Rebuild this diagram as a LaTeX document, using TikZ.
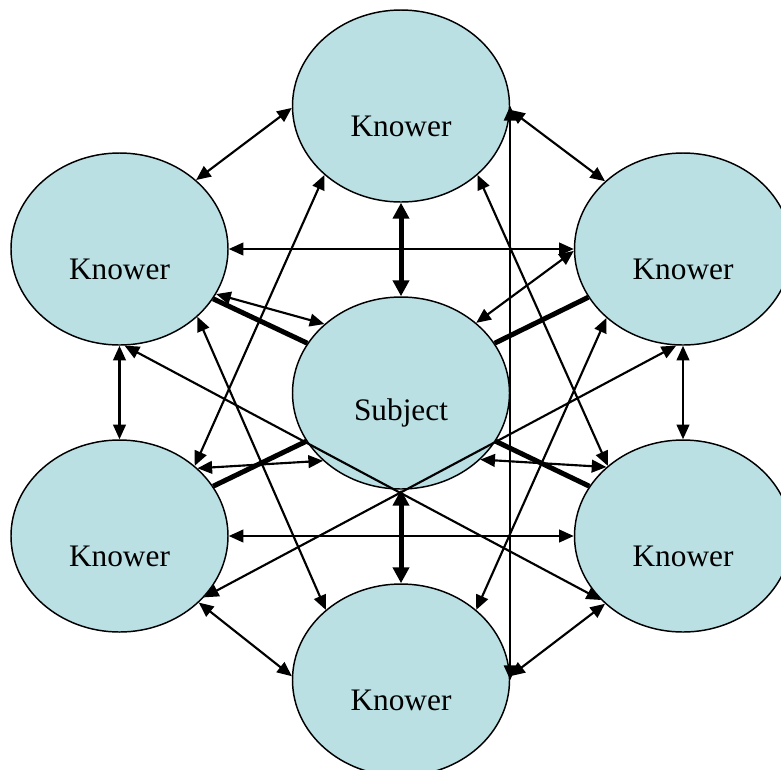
\documentclass[tikz,border=0pt]{standalone}
\usepackage{fontspec}
\setmainfont{Liberation Serif}
\usetikzlibrary{arrows.meta,shapes.geometric}
\definecolor{nodefill}{RGB}{186,224,228}
\begin{document}
\begin{tikzpicture}[x=0.75pt,y=-0.75pt,
  knower/.style={ellipse, draw=black, line width=1.1pt, fill=nodefill,
    minimum width=162.75pt, minimum height=144pt, inner sep=0pt},
  lbl/.style={font=\fontsize{23.5}{28}\selectfont, yshift=-15pt},
  dbl/.style={line width=1.6pt, {Triangle[length=11pt,width=9.5pt]}-{Triangle[length=11pt,width=9.5pt]}},
  boldline/.style={line width=3.75pt},
  boldarr/.style={line width=3.75pt, {Triangle[length=12pt,width=12pt]}-{Triangle[length=12pt,width=12pt]}}
]
\useasboundingbox (0,0) rectangle (781,769);
% nodes
\node[knower, label={[lbl]center:Knower}] (T)  at (401,106) {};
\node[knower, label={[lbl]center:Knower}] (LU) at (119.5,249) {};
\node[knower, label={[lbl]center:Knower}] (RU) at (683,249) {};
\node[knower, label={[lbl]center:Subject}] (S) at (401,393) {};
\node[knower, label={[lbl]center:Knower}] (LL) at (119.5,536) {};
\node[knower, label={[lbl]center:Knower}] (RL) at (683,536) {};
\node[knower, label={[lbl]center:Knower}] (B)  at (401,680) {};
% outer ring
\draw[dbl] (T.181) -- (LU.42);
\draw[dbl] (T.358) -- (RU.139);
\draw[dbl] (LU.270) -- (LL.90);
\draw[dbl] (RU.270) -- (RL.90);
\draw[dbl] (LL.320) -- (B.178);
\draw[dbl] (B.2) -- (RL.221);
% horizontals and vertical
\draw[dbl] (LU.0) -- (RU.180);
\draw[dbl] (LL.0) -- (RL.180);
\draw[dbl] (T.east) -- (B.east);
% long diagonals
\draw[dbl] (T.222) -- (LL.43);
\draw[dbl] (T.318) -- (RL.137);
\draw[dbl] (LU.319) -- (B.137);
\draw[dbl] (RU.222) -- (B.43);
\draw[dbl] (LU.273) -- (RL.218);
\draw[dbl] (RU.266) -- (LL.324);
% subject links
\draw[boldarr] (T.270) -- (S.90);
\draw[boldarr] (S.270) -- (B.90);
\draw[dbl] (LU.335) -- (S.138);
\draw[boldline] (LU.332) -- (S.152);
\draw[dbl] (RU.181) -- (S.43);
\draw[boldline] (RU.207) -- (S.28);
\draw[dbl] (LL.41) -- (S.221);
\draw[boldline] (LL.28) -- (S.207);
\draw[dbl] (S.320) -- (RL.138);
\draw[boldline] (RL.152) -- (S.333);
\end{tikzpicture}
\end{document}
